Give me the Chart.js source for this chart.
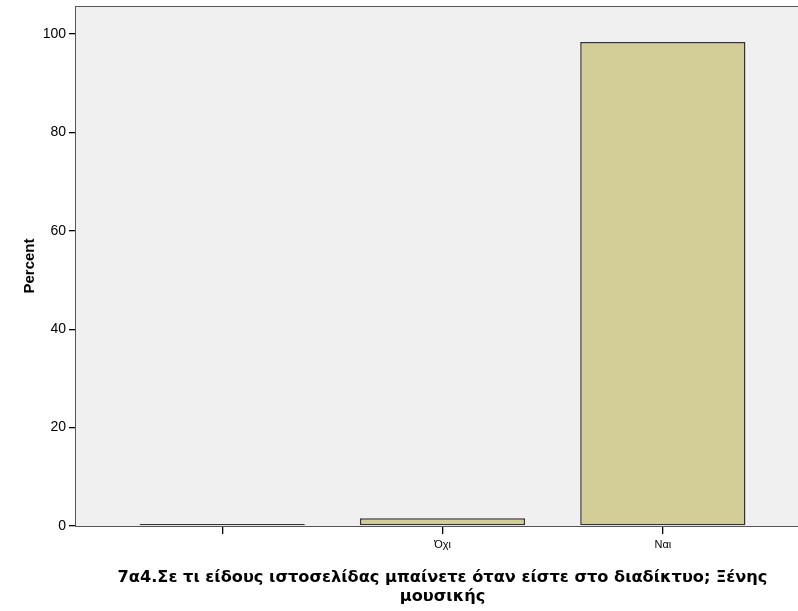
<!DOCTYPE html>
<html>
<head>
<meta charset="utf-8">
<script src="https://cdn.jsdelivr.net/npm/chart.js@4/dist/chart.umd.min.js"></script>
<style>
  html, body { margin: 0; padding: 0; background: #ffffff; overflow: hidden; }
  #wrap { width: 812px; height: 611px; position: relative; }
</style>
</head>
<body>
<div id="wrap"><canvas id="c" width="812" height="611"></canvas></div>
<script>
const categories = ["", "Όχι", "Ναι"];
const percentValues = [0, 1.6, 98.4];
const yTickValues = [0, 20, 40, 60, 80, 100];
const yAxisTitle = "Percent";
const xAxisTitle = ["7α4.Σε τι είδους ιστοσελίδας μπαίνετε όταν είστε στο διαδίκτυο; Ξένης", "μουσικής"];

const barData = categories.map((c, i) => ({ x: i, y: percentValues[i] }));

const plotBg = {
  id: 'plotBg',
  beforeDatasetsDraw(chart) {
    const {ctx, chartArea: a} = chart;
    ctx.save();
    ctx.fillStyle = '#eff0ef';
    ctx.fillRect(a.left, a.top, a.right - a.left, a.bottom - a.top);
    ctx.strokeStyle = '#555555';
    ctx.lineWidth = 1;
    ctx.strokeRect(a.left + 0.5, a.top + 0.5, a.right - a.left - 1, a.bottom - a.top);
    ctx.restore();
  }
};

new Chart(document.getElementById('c'), {
  type: 'bar',
  data: {
    datasets: [{
      data: barData,
      backgroundColor: '#d3ce97',
      borderColor: '#333333',
      borderWidth: 1.5,
      borderSkipped: false,
      minBarLength: 2,
      barPercentage: 0.75,
      categoryPercentage: 1.0
    }]
  },
  options: {
    responsive: false,
    animation: false,
    layout: { padding: { top: 6, right: 2, left: 0, bottom: 0 } },
    plugins: { legend: { display: false }, tooltip: { enabled: false } },
    scales: {
      x: {
        type: 'linear',
        offset: false,
        min: -0.668,
        max: categories.length - 1 + 0.668,
        afterBuildTicks(s) { s.ticks = categories.map((c, i) => ({ value: i })); },
        grid: { display: true, offset: false, drawOnChartArea: false, drawTicks: true, tickLength: 8, color: '#000', lineWidth: 1.3 },
        border: { display: true, color: '#000', width: 1 },
        ticks: {
          color: '#000',
          font: { family: 'Liberation Sans, Arial', size: 11 },
          padding: 4,
          maxRotation: 0,
          autoSkip: false,
          callback: (v) => categories[v] !== undefined ? categories[v] : ''
        },
        title: { display: true, text: xAxisTitle, color: '#000', font: { family: 'DejaVu Sans', size: 16.2, weight: 'bold', lineHeight: 1.17 }, padding: { top: 4, bottom: 5 } },
        afterFit(s) { s.height = 85; }
      },
      y: {
        min: 0,
        max: 105.7,
        afterBuildTicks(s) { s.ticks = yTickValues.map(v => ({ value: v })); },
        grid: { display: true, drawOnChartArea: false, drawTicks: true, tickLength: 6, color: '#000', lineWidth: 1.3 },
        border: { display: true, color: '#000', width: 1 },
        ticks: { color: '#000', font: { family: 'Liberation Sans, Arial', size: 14 }, padding: 3 },
        title: { display: true, text: yAxisTitle, color: '#000', font: { family: 'Liberation Sans, Arial', size: 15, weight: 'bold' }, padding: { top: 21, bottom: 0 } },
        afterFit(s) { s.width = 75; s.paddingTop = 0; s.paddingBottom = 0; }
      }
    }
  },
  plugins: [plotBg]
});
</script>
</body>
</html>
